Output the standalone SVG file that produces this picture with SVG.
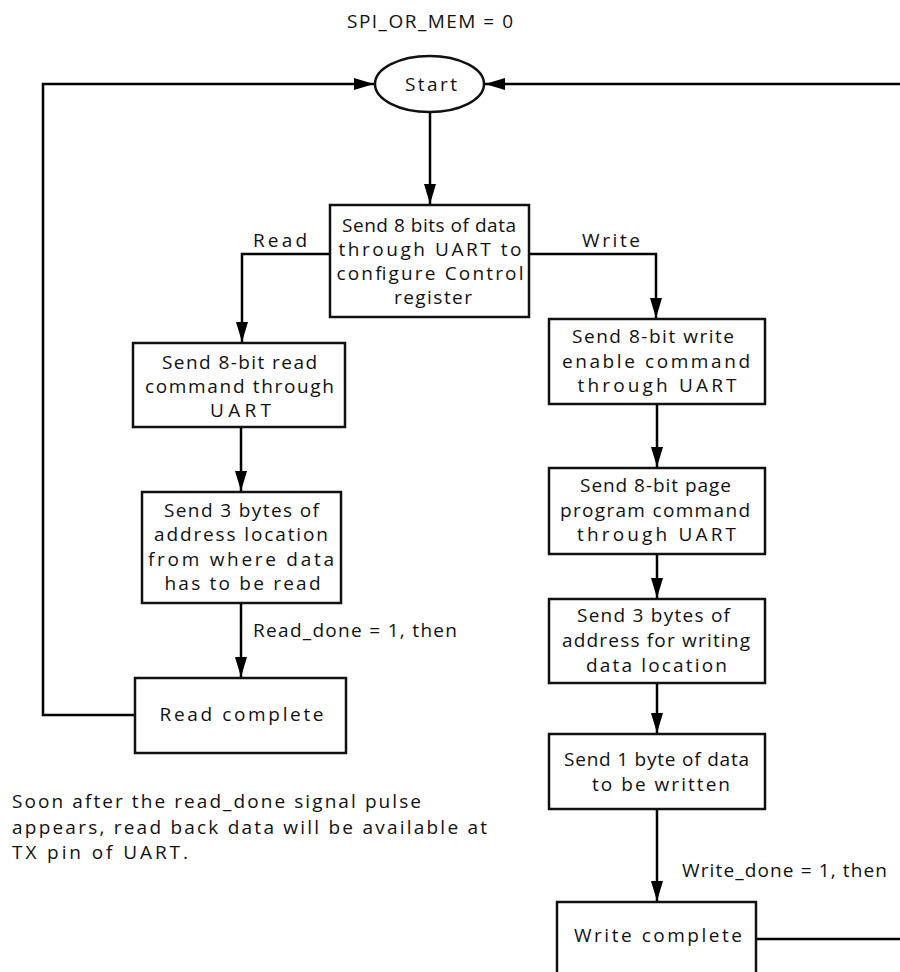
<svg xmlns="http://www.w3.org/2000/svg" width="900" height="972" viewBox="0 0 900 972">
<style>
text{font-family:"Open Sans","Liberation Sans",sans-serif;font-size:19px;fill:#111;text-anchor:middle}
.l{text-anchor:start}
.box{fill:#fff;stroke:#111;stroke-width:2.5}
.c{fill:none;stroke:#000;stroke-width:2.5}
</style>
<defs>
<marker id="ah" markerUnits="userSpaceOnUse" markerWidth="20" markerHeight="12" refX="20" refY="6" orient="auto">
<path d="M0,0 L20,6 L0,12 z" fill="#000"/>
</marker>
</defs>
<rect width="900" height="972" fill="#fff"/>
<text x="430" y="28" textLength="166" lengthAdjust="spacing">SPI_OR_MEM = 0</text>

<g id="connectors">
<path class="c" d="M430,112 V204" marker-end="url(#ah)"/>
<path class="c" d="M330,254 H242 V342" marker-end="url(#ah)"/>
<path class="c" d="M529,254 H656 V318" marker-end="url(#ah)"/>
<path class="c" d="M241,427 V491" marker-end="url(#ah)"/>
<path class="c" d="M241,603 V677" marker-end="url(#ah)"/>
<path class="c" d="M135,715 H43 V84 H374" marker-end="url(#ah)"/>
<path class="c" d="M902,84 H485" marker-end="url(#ah)"/>
<path class="c" d="M657,404 V467" marker-end="url(#ah)"/>
<path class="c" d="M657,554 V598" marker-end="url(#ah)"/>
<path class="c" d="M657,683 V733" marker-end="url(#ah)"/>
<path class="c" d="M657,809 V901" marker-end="url(#ah)"/>
<path class="c" d="M756,939 H902"/>
<text x="280" y="247" textLength="54" lengthAdjust="spacing">Read</text>
<text x="611" y="247" textLength="58" lengthAdjust="spacing">Write</text>
<text class="l" x="253" y="637" textLength="204" lengthAdjust="spacing">Read_done = 1, then</text>
<text class="l" x="682" y="877" textLength="205" lengthAdjust="spacing">Write_done = 1, then</text>
</g>

<g id="start">
<ellipse cx="429.5" cy="84" rx="54.5" ry="28" class="box"/>
<text x="431" y="91" textLength="52" lengthAdjust="spacing">Start</text>
</g>

<g id="config">
<rect class="box" x="330" y="205" width="199" height="112"/>
<text x="429" y="232" textLength="174" lengthAdjust="spacing">Send 8 bits of data</text>
<text x="430" y="256" textLength="183" lengthAdjust="spacing">through UART to</text>
<text x="430" y="280" textLength="187" lengthAdjust="spacing">configure Control</text>
<text x="433" y="304" textLength="78" lengthAdjust="spacing">register</text>
</g>

<g id="read-cmd">
<rect class="box" x="133" y="343" width="212" height="84"/>
<text x="239.5" y="369" textLength="155" lengthAdjust="spacing">Send 8-bit read</text>
<text x="239.5" y="393" textLength="189" lengthAdjust="spacing">command through</text>
<text x="240.5" y="417" textLength="61" lengthAdjust="spacing">UART</text>
</g>

<g id="read-addr">
<rect class="box" x="142" y="492" width="199" height="111"/>
<text x="241.5" y="517" textLength="155" lengthAdjust="spacing">Send 3 bytes of</text>
<text x="241" y="541" textLength="174" lengthAdjust="spacing">address location</text>
<text x="241" y="566" textLength="186" lengthAdjust="spacing">from where data</text>
<text x="242.5" y="590" textLength="156" lengthAdjust="spacing">has to be read</text>
</g>

<g id="read-complete">
<rect class="box" x="135" y="678" width="211" height="75"/>
<text x="241.5" y="721" textLength="164" lengthAdjust="spacing">Read complete</text>
</g>

<g id="note">
<text class="l" x="12" y="808" textLength="409" lengthAdjust="spacing">Soon after the read_done signal pulse</text>
<text class="l" x="12" y="834" textLength="475" lengthAdjust="spacing">appears, read back data will be available at</text>
<text class="l" x="12" y="859" textLength="176" lengthAdjust="spacing">TX pin of UART.</text>
</g>

<g id="write-enable">
<rect class="box" x="549" y="319" width="216" height="85"/>
<text x="653" y="343" textLength="162" lengthAdjust="spacing">Send 8-bit write</text>
<text x="656" y="368" textLength="188" lengthAdjust="spacing">enable command</text>
<text x="657" y="392" textLength="159" lengthAdjust="spacing">through UART</text>
</g>

<g id="page-program">
<rect class="box" x="549" y="468" width="216" height="86"/>
<text x="655.5" y="492" textLength="151" lengthAdjust="spacing">Send 8-bit page</text>
<text x="655" y="517" textLength="190" lengthAdjust="spacing">program command</text>
<text x="656.5" y="541" textLength="159" lengthAdjust="spacing">through UART</text>
</g>

<g id="write-addr">
<rect class="box" x="549" y="599" width="216" height="84"/>
<text x="653.5" y="622" textLength="153" lengthAdjust="spacing">Send 3 bytes of</text>
<text x="656" y="647" textLength="188" lengthAdjust="spacing">address for writing</text>
<text x="656.5" y="672" textLength="141" lengthAdjust="spacing">data location</text>
</g>

<g id="write-data">
<rect class="box" x="549" y="734" width="216" height="75"/>
<text x="656.5" y="766" textLength="185" lengthAdjust="spacing">Send 1 byte of data</text>
<text x="661" y="791" textLength="138" lengthAdjust="spacing">to be written</text>
</g>

<g id="write-complete">
<rect class="box" x="557" y="902" width="199" height="100"/>
<text x="658" y="942" textLength="168" lengthAdjust="spacing">Write complete</text>
</g>
</svg>
